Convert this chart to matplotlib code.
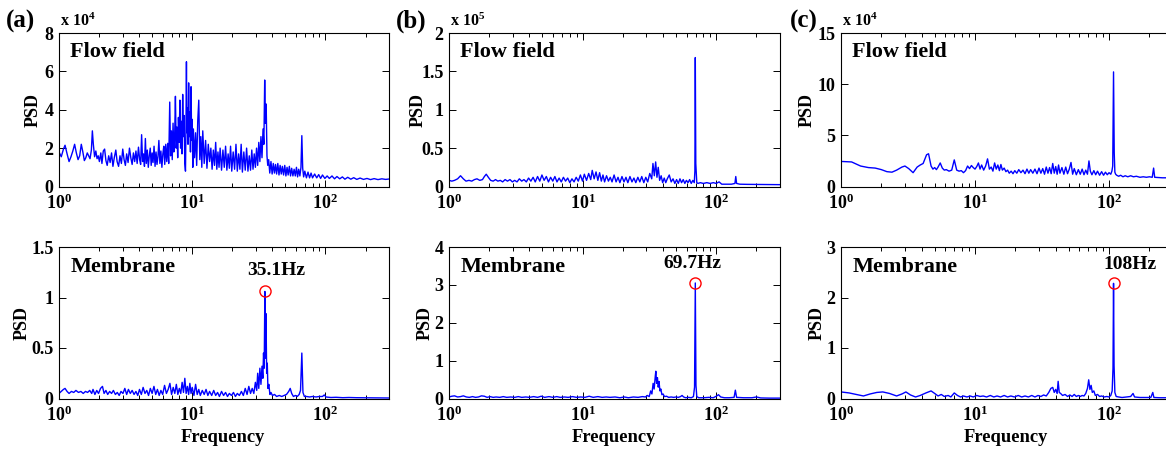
import numpy as np
import matplotlib
matplotlib.use('Agg')
import matplotlib.pyplot as plt
from matplotlib.ticker import FuncFormatter, LogLocator

plt.rcParams['font.family'] = ['Liberation Serif', 'DejaVu Serif']
plt.rcParams['font.weight'] = 'bold'
plt.rcParams['mathtext.fontset'] = 'custom'
plt.rcParams['mathtext.rm'] = 'Liberation Serif:bold'
plt.rcParams['mathtext.bf'] = 'Liberation Serif:bold'
plt.rcParams['mathtext.it'] = 'Liberation Serif:bold:italic'
plt.rcParams['mathtext.default'] = 'rm'

# (frequency [Hz], PSD)
# (a) flow field, units of 1e4
flow_a = [
    (1.00, 1.80), (1.04, 1.55), (1.08, 1.95), (1.11, 2.15), (1.15, 1.70), (1.19, 1.30), (1.23, 1.55),
    (1.27, 1.85), (1.31, 2.20), (1.35, 1.75), (1.39, 1.40), (1.43, 1.60), (1.47, 2.20), (1.51, 1.80),
    (1.55, 1.35), (1.59, 1.50), (1.63, 1.75), (1.67, 1.60), (1.71, 1.45), (1.75, 1.90), (1.78, 2.90),
    (1.81, 2.20), (1.85, 1.55), (1.89, 1.85), (1.93, 1.45), (1.97, 1.60), (2.01, 1.30), (2.06, 1.75),
    (2.10, 1.20), (2.15, 1.85), (2.20, 1.95), (2.25, 1.35), (2.30, 1.10), (2.36, 1.60), (2.42, 1.25),
    (2.48, 1.75), (2.54, 1.05), (2.60, 1.50), (2.67, 1.90), (2.73, 1.30), (2.80, 1.05), (2.87, 1.60),
    (2.94, 1.20), (3.01, 1.95), (3.08, 1.40), (3.15, 1.10), (3.22, 1.70), (3.30, 1.25), (3.38, 2.00),
    (3.46, 1.50), (3.54, 1.15), (3.62, 1.75), (3.70, 1.30), (3.78, 1.85), (3.86, 1.20), (3.95, 2.05),
    (4.03, 1.40), (4.10, 1.15), (4.17, 2.70), (4.24, 1.30), (4.31, 1.70), (4.38, 1.05), (4.45, 2.50),
    (4.52, 1.20), (4.60, 1.90), (4.68, 1.00), (4.76, 1.60), (4.84, 2.00), (4.92, 1.10), (5.00, 1.75),
    (5.08, 1.25), (5.17, 2.10), (5.26, 1.05), (5.35, 1.80), (5.44, 1.15), (5.53, 1.55), (5.62, 2.40),
    (5.72, 1.20), (5.82, 1.85), (5.92, 1.00), (6.02, 1.70), (6.12, 2.10), (6.22, 1.15), (6.33, 2.20),
    (6.44, 1.30), (6.55, 2.25), (6.66, 1.20), (6.78, 4.40), (6.88, 1.60), (6.98, 2.90), (7.08, 1.40),
    (7.18, 3.30), (7.28, 1.80), (7.38, 2.60), (7.48, 4.70), (7.58, 2.00), (7.68, 3.10), (7.78, 1.50),
    (7.88, 3.60), (7.98, 2.30), (8.08, 4.50), (8.18, 2.00), (8.28, 3.40), (8.38, 1.70), (8.48, 4.80),
    (8.58, 2.60), (8.68, 3.70), (8.80, 1.20), (8.90, 0.80), (8.98, 3.20), (9.05, 6.50), (9.12, 2.80),
    (9.20, 4.10), (9.30, 2.20), (9.40, 5.40), (9.50, 2.60), (9.60, 3.90), (9.70, 1.80), (9.80, 5.20),
    (9.90, 2.40), (10.0, 3.50), (10.1, 1.00), (10.2, 3.00), (10.4, 1.50), (10.6, 2.80), (10.8, 1.10),
    (11.0, 3.40), (11.2, 4.50), (11.4, 1.40), (11.6, 2.60), (11.8, 1.00), (12.0, 2.90), (12.3, 1.20),
    (12.6, 2.40), (12.9, 0.95), (13.2, 2.20), (13.5, 1.30), (13.8, 2.00), (14.1, 0.90), (14.4, 1.90),
    (14.7, 1.10), (15.0, 2.30), (15.3, 0.90), (15.6, 1.80), (15.9, 1.00), (16.2, 2.00), (16.6, 0.85),
    (17.0, 1.90), (17.4, 1.00), (17.8, 2.10), (18.2, 0.85), (18.6, 1.70), (19.0, 0.95), (19.4, 2.10),
    (19.8, 0.80), (20.3, 1.80), (20.8, 0.90), (21.3, 2.20), (21.8, 0.80), (22.3, 1.70), (22.8, 0.90),
    (23.3, 2.20), (23.8, 0.75), (24.4, 1.80), (25.0, 0.85), (25.6, 2.00), (26.2, 0.80), (26.8, 1.60),
    (27.4, 0.85), (28.0, 1.90), (28.6, 0.90), (29.2, 1.70), (29.8, 1.00), (30.4, 2.00), (31.0, 1.10),
    (31.6, 2.30), (32.2, 1.30), (32.8, 2.60), (33.4, 1.50), (34.0, 3.00), (34.5, 2.20), (35.0, 5.55),
    (35.4, 3.30), (35.9, 4.30), (36.4, 1.60), (36.9, 1.10), (37.5, 1.40), (38.2, 0.70), (39.0, 1.30),
    (39.8, 0.65), (40.6, 1.20), (41.4, 0.70), (42.2, 1.15), (43.0, 0.65), (43.9, 1.20), (44.8, 0.60),
    (45.7, 1.10), (46.6, 0.65), (47.5, 1.05), (48.5, 0.60), (49.5, 1.10), (50.5, 0.55), (51.5, 1.00),
    (52.5, 0.60), (53.6, 1.05), (54.7, 0.55), (55.8, 0.95), (57.0, 0.55), (58.2, 0.90), (59.4, 0.55),
    (60.6, 1.00), (61.8, 0.50), (63.0, 0.90), (64.3, 0.55), (65.5, 1.00), (66.5, 2.65), (67.5, 0.95),
    (68.6, 0.50), (70.0, 0.80), (72.0, 0.45), (74.0, 0.75), (76.0, 0.45), (78.0, 0.70), (80.0, 0.45),
    (83.0, 0.65), (86.0, 0.45), (89.0, 0.62), (92.0, 0.42), (95.0, 0.60), (99.0, 0.42), (103, 0.55),
    (107, 0.42), (112, 0.55), (117, 0.40), (122, 0.52), (128, 0.40), (134, 0.50), (140, 0.38),
    (147, 0.48), (155, 0.38), (163, 0.46), (172, 0.37), (182, 0.44), (193, 0.37), (205, 0.42),
    (218, 0.36), (232, 0.41), (248, 0.36), (265, 0.40), (283, 0.37), (300, 0.39),
]

# (a) membrane
mem_a = [
    (1.00, 0.05), (1.04, 0.07), (1.08, 0.09), (1.11, 0.10), (1.15, 0.07), (1.19, 0.05), (1.24, 0.07),
    (1.29, 0.06), (1.34, 0.08), (1.40, 0.06), (1.46, 0.07), (1.52, 0.05), (1.58, 0.07), (1.64, 0.06),
    (1.70, 0.08), (1.76, 0.05), (1.80, 0.09), (1.86, 0.04), (1.92, 0.08), (1.98, 0.05), (2.05, 0.10),
    (2.12, 0.12), (2.18, 0.05), (2.25, 0.08), (2.32, 0.04), (2.40, 0.07), (2.48, 0.05), (2.56, 0.08),
    (2.65, 0.04), (2.74, 0.06), (2.83, 0.03), (2.92, 0.07), (3.02, 0.05), (3.12, 0.10), (3.22, 0.04),
    (3.32, 0.09), (3.43, 0.05), (3.54, 0.08), (3.66, 0.04), (3.78, 0.07), (3.90, 0.03), (4.02, 0.09),
    (4.15, 0.04), (4.28, 0.11), (4.42, 0.05), (4.56, 0.08), (4.70, 0.03), (4.85, 0.10), (5.00, 0.05),
    (5.16, 0.12), (5.32, 0.04), (5.48, 0.09), (5.65, 0.03), (5.82, 0.08), (6.00, 0.04), (6.20, 0.13),
    (6.40, 0.05), (6.60, 0.09), (6.80, 0.15), (7.00, 0.04), (7.20, 0.11), (7.40, 0.05), (7.60, 0.14),
    (7.80, 0.04), (8.00, 0.10), (8.20, 0.05), (8.40, 0.16), (8.60, 0.06), (8.80, 0.20), (9.00, 0.05),
    (9.20, 0.12), (9.40, 0.04), (9.60, 0.15), (9.80, 0.05), (10.0, 0.11), (10.3, 0.03), (10.6, 0.14),
    (10.9, 0.04), (11.2, 0.09), (11.5, 0.03), (11.9, 0.08), (12.3, 0.04), (12.7, 0.09), (13.1, 0.03),
    (13.5, 0.07), (14.0, 0.03), (14.5, 0.08), (15.0, 0.03), (15.5, 0.06), (16.0, 0.02), (16.6, 0.07),
    (17.2, 0.03), (17.8, 0.06), (18.4, 0.02), (19.0, 0.05), (19.7, 0.03), (20.4, 0.06), (21.1, 0.02),
    (21.8, 0.05), (22.6, 0.03), (23.4, 0.07), (24.2, 0.03), (25.0, 0.10), (25.8, 0.04), (26.6, 0.12),
    (27.4, 0.05), (28.2, 0.10), (29.0, 0.05), (29.8, 0.16), (30.5, 0.08), (31.0, 0.25), (31.6, 0.10),
    (32.2, 0.30), (32.8, 0.14), (33.4, 0.32), (33.9, 0.20), (34.3, 0.45), (34.7, 0.30), (35.1, 1.06),
    (35.5, 0.40), (35.8, 0.84), (36.2, 0.25), (36.6, 0.35), (37.0, 0.10), (37.6, 0.14), (38.3, 0.04),
    (39.0, 0.06), (40.0, 0.03), (41.5, 0.04), (43.0, 0.02), (45.0, 0.03), (47.0, 0.02), (49.0, 0.03),
    (51.0, 0.04), (53.0, 0.07), (54.4, 0.10), (55.8, 0.05), (57.5, 0.02), (59.5, 0.03), (61.5, 0.02),
    (63.5, 0.04), (65.0, 0.08), (66.5, 0.45), (67.8, 0.06), (69.5, 0.02), (72.0, 0.02), (76.0, 0.015),
    (80.0, 0.02), (85.0, 0.015), (90.0, 0.02), (95.0, 0.02), (98.0, 0.035), (101, 0.015), (110, 0.01),
    (120, 0.012), (135, 0.008), (150, 0.01), (170, 0.008), (200, 0.007), (240, 0.006), (300, 0.005),
]

# (b) flow field, units of 1e5
flow_b = [
    (1.00, 0.08), (1.05, 0.07), (1.10, 0.08), (1.16, 0.10), (1.22, 0.14), (1.28, 0.10), (1.34, 0.07),
    (1.41, 0.08), (1.48, 0.07), (1.55, 0.09), (1.62, 0.10), (1.70, 0.08), (1.78, 0.09), (1.84, 0.13),
    (1.90, 0.16), (1.97, 0.12), (2.05, 0.08), (2.14, 0.07), (2.23, 0.09), (2.32, 0.07), (2.42, 0.08),
    (2.52, 0.06), (2.63, 0.09), (2.74, 0.07), (2.86, 0.09), (2.98, 0.06), (3.10, 0.08), (3.23, 0.06),
    (3.36, 0.10), (3.50, 0.07), (3.64, 0.09), (3.79, 0.06), (3.94, 0.11), (4.10, 0.07), (4.26, 0.12),
    (4.42, 0.06), (4.60, 0.13), (4.78, 0.07), (4.96, 0.15), (5.15, 0.08), (5.35, 0.13), (5.55, 0.06),
    (5.76, 0.12), (5.98, 0.07), (6.20, 0.13), (6.43, 0.06), (6.67, 0.11), (6.92, 0.06), (7.18, 0.12),
    (7.45, 0.07), (7.73, 0.11), (8.02, 0.05), (8.32, 0.10), (8.63, 0.06), (8.95, 0.12), (9.28, 0.07),
    (9.62, 0.15), (9.98, 0.07), (10.3, 0.16), (10.7, 0.08), (11.1, 0.17), (11.5, 0.09), (11.8, 0.21),
    (12.2, 0.10), (12.6, 0.19), (13.0, 0.08), (13.4, 0.18), (13.8, 0.07), (14.2, 0.15), (14.6, 0.06),
    (15.1, 0.14), (15.6, 0.07), (16.1, 0.12), (16.6, 0.06), (17.2, 0.15), (17.8, 0.06), (18.4, 0.12),
    (19.0, 0.05), (19.7, 0.13), (20.4, 0.06), (21.1, 0.12), (21.8, 0.05), (22.6, 0.13), (23.4, 0.06),
    (24.2, 0.11), (25.0, 0.05), (25.9, 0.12), (26.8, 0.06), (27.7, 0.13), (28.7, 0.05), (29.7, 0.12),
    (30.7, 0.06), (31.8, 0.17), (32.9, 0.10), (33.6, 0.30), (34.4, 0.14), (35.2, 0.32), (36.0, 0.12),
    (36.8, 0.25), (37.7, 0.08), (38.7, 0.14), (39.7, 0.05), (40.8, 0.11), (41.9, 0.05), (43.0, 0.10),
    (44.5, 0.15), (46.0, 0.06), (47.5, 0.10), (49.0, 0.04), (50.5, 0.09), (52.0, 0.04), (53.5, 0.10),
    (55.0, 0.05), (56.6, 0.09), (58.2, 0.04), (59.8, 0.08), (61.5, 0.05), (63.2, 0.09), (65.0, 0.04),
    (66.8, 0.08), (68.5, 0.05), (69.2, 0.20), (69.7, 1.68), (70.3, 0.30), (71.5, 0.05), (73.0, 0.04),
    (76.0, 0.05), (80.0, 0.04), (85.0, 0.05), (90.0, 0.04), (95.0, 0.05), (100, 0.04), (105, 0.06),
    (110, 0.03), (120, 0.03), (130, 0.03), (138, 0.04), (140, 0.13), (142, 0.04), (150, 0.03),
    (170, 0.028), (200, 0.027), (240, 0.025), (300, 0.024),
]

# (b) membrane
mem_b = [
    (1.00, 0.04), (1.05, 0.06), (1.10, 0.07), (1.16, 0.04), (1.22, 0.05), (1.28, 0.07), (1.35, 0.04),
    (1.42, 0.03), (1.50, 0.05), (1.58, 0.03), (1.66, 0.04), (1.75, 0.07), (1.84, 0.06), (1.93, 0.03),
    (2.03, 0.05), (2.14, 0.03), (2.25, 0.04), (2.40, 0.03), (2.55, 0.05), (2.70, 0.03), (2.90, 0.04),
    (3.10, 0.03), (3.30, 0.05), (3.50, 0.03), (3.75, 0.04), (4.00, 0.03), (4.30, 0.05), (4.60, 0.03),
    (4.90, 0.06), (5.20, 0.03), (5.60, 0.05), (6.00, 0.03), (6.40, 0.05), (6.80, 0.03), (7.30, 0.04),
    (7.80, 0.03), (8.40, 0.05), (9.00, 0.03), (9.70, 0.04), (10.4, 0.03), (11.2, 0.06), (12.0, 0.03),
    (13.0, 0.05), (14.0, 0.03), (15.0, 0.04), (16.0, 0.03), (17.5, 0.04), (19.0, 0.02), (20.5, 0.04),
    (22.0, 0.02), (24.0, 0.04), (26.0, 0.03), (28.0, 0.05), (29.5, 0.04), (30.5, 0.08), (31.5, 0.05),
    (32.3, 0.20), (33.0, 0.12), (33.7, 0.40), (34.3, 0.25), (35.0, 0.60), (35.3, 0.72), (35.8, 0.40),
    (36.3, 0.55), (36.8, 0.30), (37.3, 0.45), (37.9, 0.20), (38.5, 0.25), (39.2, 0.10), (40.0, 0.12),
    (41.0, 0.05), (42.5, 0.06), (44.0, 0.03), (46.0, 0.04), (48.0, 0.03), (50.0, 0.04), (52.0, 0.03),
    (54.0, 0.05), (55.5, 0.08), (57.0, 0.04), (59.0, 0.02), (62.0, 0.03), (65.0, 0.02), (67.5, 0.05),
    (68.8, 0.30), (69.7, 3.05), (70.5, 0.35), (71.5, 0.05), (74.0, 0.02), (80.0, 0.02), (88.0, 0.03),
    (95.0, 0.02), (100, 0.06), (104, 0.10), (108, 0.04), (115, 0.02), (125, 0.02), (136, 0.03),
    (139, 0.22), (142, 0.03), (160, 0.02), (185, 0.02), (200, 0.04), (215, 0.015), (250, 0.01),
    (300, 0.01),
]

# (c) flow field, units of 1e4
flow_c = [
    (1.00, 2.45), (1.20, 2.40), (1.40, 2.00), (1.60, 1.85), (1.80, 1.80), (2.00, 1.65), (2.20, 1.45),
    (2.40, 1.40), (2.60, 1.60), (2.85, 1.90), (3.00, 2.00), (3.20, 1.75), (3.45, 1.35), (3.70, 1.90),
    (3.90, 2.10), (4.10, 2.25), (4.35, 3.10), (4.50, 3.20), (4.70, 2.00), (4.85, 1.70), (5.00, 1.85),
    (5.15, 1.65), (5.30, 1.90), (5.50, 2.30), (5.70, 1.80), (5.90, 1.60), (6.10, 1.65), (6.40, 1.50),
    (6.70, 1.60), (7.00, 2.60), (7.30, 1.60), (7.60, 1.50), (7.90, 1.55), (8.20, 1.35), (8.50, 1.55),
    (8.80, 2.00), (9.10, 1.75), (9.40, 2.05), (9.70, 1.85), (10.0, 1.70), (10.3, 1.95), (10.6, 2.30),
    (10.9, 1.70), (11.2, 2.10), (11.6, 1.60), (12.0, 2.00), (12.4, 2.70), (12.8, 1.70), (13.2, 1.90),
    (13.6, 1.50), (14.0, 2.30), (14.4, 1.70), (14.8, 2.10), (15.2, 1.55), (15.6, 2.15), (16.0, 1.60),
    (16.5, 1.80), (17.0, 1.45), (17.5, 1.60), (18.0, 1.30), (18.6, 1.50), (19.2, 1.25), (19.8, 1.55),
    (20.5, 1.30), (21.2, 1.65), (22.0, 1.35), (22.8, 1.60), (23.6, 1.25), (24.4, 1.70), (25.2, 1.30),
    (26.0, 1.65), (27.0, 1.30), (28.0, 1.70), (29.0, 1.25), (30.0, 1.80), (31.0, 1.30), (32.0, 1.75),
    (33.0, 1.20), (34.0, 1.90), (35.0, 1.30), (36.0, 1.85), (37.0, 1.25), (38.0, 2.25), (39.0, 1.30),
    (40.0, 1.95), (41.0, 1.20), (42.0, 2.10), (43.0, 1.30), (44.5, 1.85), (46.0, 1.20), (47.5, 1.90),
    (49.0, 1.25), (50.5, 1.70), (52.0, 2.35), (53.5, 1.20), (55.0, 1.75), (57.0, 1.15), (59.0, 1.65),
    (61.0, 1.20), (63.0, 1.70), (65.0, 1.15), (67.0, 1.60), (69.0, 1.20), (70.8, 2.50), (72.5, 1.50),
    (74.5, 1.15), (77.0, 1.55), (79.5, 1.15), (82.0, 1.50), (85.0, 1.10), (88.0, 1.45), (91.0, 1.10),
    (94.0, 1.40), (97.0, 1.15), (100, 1.35), (103, 1.20), (105, 1.50), (106.5, 2.00), (108, 11.2),
    (109.3, 3.30), (110.5, 1.40), (112, 1.20), (114, 1.10), (118, 1.00), (122, 1.10), (127, 0.95),
    (132, 1.05), (138, 0.95), (145, 1.05), (152, 0.95), (160, 1.00), (170, 0.90), (180, 0.95),
    (190, 0.90), (200, 0.95), (210, 0.90), (215, 1.80), (219, 0.90), (230, 0.88), (250, 0.85),
    (275, 0.85), (300, 0.85),
]

# (c) membrane
mem_c = [
    (1.00, 0.13), (1.15, 0.11), (1.30, 0.08), (1.47, 0.05), (1.65, 0.09), (1.85, 0.12), (2.05, 0.13),
    (2.30, 0.10), (2.60, 0.05), (2.85, 0.09), (3.05, 0.13), (3.30, 0.07), (3.60, 0.03), (3.90, 0.06),
    (4.30, 0.11), (4.70, 0.15), (5.00, 0.10), (5.30, 0.05), (5.60, 0.08), (5.90, 0.04), (6.30, 0.06),
    (6.60, 0.03), (7.00, 0.11), (7.40, 0.06), (7.80, 0.03), (8.20, 0.05), (8.70, 0.03), (9.20, 0.05),
    (9.70, 0.03), (10.3, 0.06), (10.9, 0.04), (11.5, 0.05), (12.2, 0.03), (13.0, 0.06), (13.8, 0.03),
    (14.6, 0.05), (15.5, 0.03), (16.5, 0.06), (17.5, 0.03), (18.5, 0.05), (19.7, 0.03), (21.0, 0.06),
    (22.3, 0.03), (23.6, 0.05), (25.0, 0.03), (26.5, 0.06), (28.0, 0.03), (29.5, 0.06), (31.0, 0.04),
    (32.5, 0.07), (34.0, 0.05), (35.5, 0.12), (36.8, 0.20), (38.0, 0.22), (39.0, 0.12), (40.0, 0.18),
    (41.0, 0.10), (41.7, 0.34), (42.5, 0.12), (43.5, 0.10), (45.0, 0.06), (47.0, 0.08), (49.0, 0.04),
    (51.0, 0.07), (53.0, 0.04), (55.0, 0.08), (57.0, 0.04), (59.0, 0.06), (61.0, 0.04), (63.0, 0.06),
    (65.0, 0.05), (67.0, 0.10), (69.0, 0.20), (70.5, 0.37), (72.0, 0.18), (73.5, 0.26), (75.0, 0.12),
    (77.0, 0.15), (79.0, 0.06), (82.0, 0.08), (85.0, 0.04), (88.0, 0.05), (92.0, 0.03), (96.0, 0.04),
    (100, 0.03), (103, 0.06), (105.5, 0.15), (107, 0.60), (108, 2.28), (109, 0.65), (110.5, 0.12),
    (113, 0.04), (118, 0.03), (125, 0.02), (135, 0.03), (145, 0.04), (151, 0.10), (155, 0.03),
    (170, 0.02), (190, 0.02), (205, 0.02), (212, 0.12), (216, 0.02), (240, 0.015), (270, 0.015),
    (300, 0.01),
]

peak_freq = [35.1, 69.7, 108]
peak_psd = [1.06, 3.05, 2.28]
peak_text = ['35.1Hz', '69.7Hz', '108Hz']
peak_text_pos = [(42.7, 1.27), (65.8, 3.57), (143, 2.66)]

panel_names = ['(a)', '(b)', '(c)']
flow_exp = ['4', '5', '4']
flow_ylim = [8, 2, 15]
flow_yticks = [[0, 2, 4, 6, 8], [0, 0.5, 1, 1.5, 2], [0, 5, 10, 15]]
mem_ylim = [1.5, 4, 3]
mem_yticks = [[0, 0.5, 1, 1.5], [0, 1, 2, 3, 4], [0, 1, 2, 3]]

flows = [flow_a, flow_b, flow_c]
mems = [mem_a, mem_b, mem_c]

fig = plt.figure(figsize=(11.66, 4.49), dpi=100)
W, H = 1166.0, 449.0
lefts = [59, 449, 841]
widths = [330, 331, 332]
flow_lab_x = [-0.079, -0.094, -0.103]
mem_lab_x = [-0.113, -0.073, -0.073]
panel_x = [6, 396, 790]
fmt = FuncFormatter(lambda v, p: '%g' % v)


def style(ax, ylim, yticks):
    ax.set_xscale('log')
    ax.set_xlim(1, 300)
    ax.set_ylim(0, ylim)
    ax.set_yticks(yticks)
    ax.yaxis.set_major_formatter(fmt)
    ax.xaxis.set_minor_locator(LogLocator(base=10, subs=np.arange(2, 10), numticks=20))
    ax.tick_params(which='both', direction='in', top=True, right=True,
                   labelsize=13, width=0.7)
    ax.tick_params(axis='y', pad=4)
    ax.tick_params(axis='x', pad=5)
    ax.tick_params(which='major', length=5)
    ax.tick_params(which='minor', length=3)
    for s in ax.spines.values():
        s.set_linewidth(0.8)


for i in range(3):
    x0 = lefts[i] / W
    w = widths[i] / W
    ax1 = fig.add_axes([x0, 1 - 186.5 / H, w, 153.5 / H])
    ax2 = fig.add_axes([x0, 1 - 398.5 / H, w, 151.5 / H])

    f, p = np.array(flows[i]).T
    ax1.plot(f, p, color='#0000ff', lw=1.0)
    style(ax1, flow_ylim[i], flow_yticks[i])
    ax1.set_ylabel('PSD', fontsize=13, fontweight='bold', va='center')
    ax1.yaxis.set_label_coords(flow_lab_x[i], 0.5)
    ax1.text(0.033, 0.875, 'Flow field', transform=ax1.transAxes, fontsize=16,
             fontweight='bold', ha='left', va='center')
    ax1.text(0.002, 1.02, r'x 10$^{%s}$' % flow_exp[i], transform=ax1.transAxes,
             fontsize=11.5, fontweight='bold', ha='left', va='bottom')

    f, p = np.array(mems[i]).T
    ax2.plot(f, p, color='#0000ff', lw=1.0)
    style(ax2, mem_ylim[i], mem_yticks[i])
    ax2.plot(peak_freq[i], peak_psd[i], 'o', mfc='none', mec='red', ms=8, mew=1)
    ax2.text(peak_text_pos[i][0], peak_text_pos[i][1], peak_text[i], fontsize=14,
             fontweight='bold', ha='center', va='center')
    ax2.set_ylabel('PSD', fontsize=13, fontweight='bold', va='center')
    ax2.yaxis.set_label_coords(mem_lab_x[i], 0.5)
    ax2.set_xlabel('Frequency', fontsize=13.3, fontweight='bold', va='center')
    ax2.xaxis.set_label_coords(0.497, -0.257)
    ax2.text(0.035, 0.87, 'Membrane', transform=ax2.transAxes, fontsize=16,
             fontweight='bold', ha='left', va='center')

    fig.text(panel_x[i] / W, 1 - 21 / H, panel_names[i], fontsize=18,
             fontweight='bold', ha='left', va='center')

fig.savefig('out.png', dpi=100)
